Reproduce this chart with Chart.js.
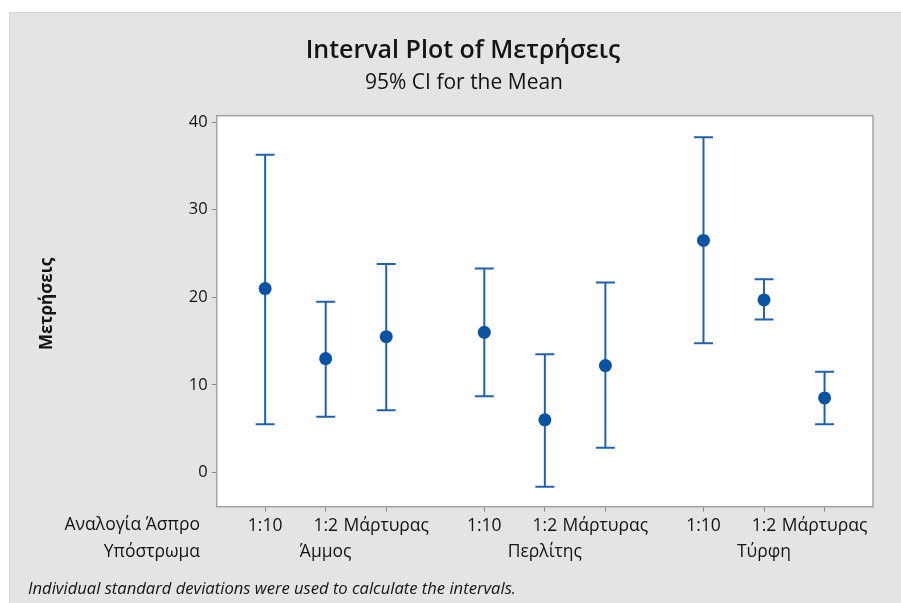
<!DOCTYPE html>
<html>
<head>
<meta charset="utf-8">
<script src="https://cdn.jsdelivr.net/npm/chart.js@4.4.1/dist/chart.umd.min.js"></script>
<style>
  body { margin: 0; background: #ffffff; }
  canvas { display: block; }
</style>
</head>
<body>
<canvas id="intervalChart" width="901" height="603"></canvas>
<script>
const soilTypes = ['Άμμος', 'Περλίτης', 'Τύρφη'];
const ratios = ['1:10', '1:2', 'Μάρτυρας'];

// one value per (soil, ratio) pair, in the order above
const means = [21.0, 13.0, 15.5, 16.0, 6.0, 12.2, 26.5, 19.7, 8.5];
const upperCI = [36.3, 19.5, 23.8, 23.3, 13.5, 21.7, 38.3, 22.05, 11.5];
const lowerCI = [5.5, 6.35, 7.1, 8.7, -1.65, 2.8, 14.75, 17.45, 5.5];

const yTicks = [0, 10, 20, 30, 40];

const GROUP_STEP = 3.62;
const lineColor = '#2261ad';
const dotColor = '#0a52a2';
const textColor = '#141414';
const fontName = "'Open Sans', sans-serif";

const points = [];
soilTypes.forEach((soil, g) => {
    ratios.forEach((r, j) => {
        const i = g * ratios.length + j;
        points.push({ x: g * GROUP_STEP + j, y: means[i], lo: lowerCI[i], hi: upperCI[i] });
    });
});

const panelPlugin = {
    id: 'panel',
    beforeDraw(chart) {
        const ctx = chart.ctx;
        const a = chart.chartArea;
        ctx.save();
        ctx.fillStyle = '#e4e4e4';
        ctx.fillRect(9, 12, chart.width - 9, chart.height - 12);
        ctx.strokeStyle = '#d4d4d4';
        ctx.lineWidth = 1;
        ctx.strokeRect(9.5, 12.5, chart.width, chart.height);
        ctx.fillStyle = '#ffffff';
        ctx.fillRect(a.left, a.top, a.right - a.left, a.bottom - a.top);
        ctx.restore();
    },
    afterDraw(chart) {
        const ctx = chart.ctx;
        const a = chart.chartArea;
        const xs = chart.scales.x;
        ctx.save();
        ctx.strokeStyle = '#a3a3a3';
        ctx.lineWidth = 1.5;
        ctx.strokeRect(a.left, a.top, a.right - a.left, a.bottom - a.top);

        ctx.fillStyle = textColor;
        ctx.textAlign = 'center';
        ctx.textBaseline = 'middle';
        ctx.font = `600 25px ${fontName}`;
        ctx.fillText('Interval Plot of Μετρήσεις', 463, 51);
        ctx.font = `400 21px ${fontName}`;
        ctx.fillText('95% CI for the Mean', 464, 83);

        ctx.font = `400 17.5px ${fontName}`;
        ctx.textAlign = 'right';
        ctx.fillText('Αναλογία Άσπρο', 200, 525);
        ctx.fillText('Υπόστρωμα', 200, 552);
        ctx.textAlign = 'center';
        soilTypes.forEach((soil, g) => {
            ctx.fillText(soil, xs.getPixelForValue(g * GROUP_STEP + 1), 552);
        });

        ctx.font = `italic 400 16.6px ${fontName}`;
        ctx.textAlign = 'left';
        ctx.fillText('Individual standard deviations were used to calculate the intervals.', 28, 589);

        ctx.translate(47.5, 304);
        ctx.rotate(-Math.PI / 2);
        ctx.textAlign = 'center';
        ctx.font = `700 17px ${fontName}`;
        ctx.fillText('Μετρήσεις', 0, 0);
        ctx.restore();
    }
};

const intervalPlugin = {
    id: 'intervals',
    beforeDatasetsDraw(chart) {
        const ctx = chart.ctx;
        const xs = chart.scales.x;
        const ys = chart.scales.y;
        const cap = 9.5;
        ctx.save();
        ctx.strokeStyle = lineColor;
        ctx.lineWidth = 2;
        points.forEach(p => {
            const x = xs.getPixelForValue(p.x);
            const yLo = ys.getPixelForValue(p.lo);
            const yHi = ys.getPixelForValue(p.hi);
            ctx.beginPath();
            ctx.moveTo(x, yHi);
            ctx.lineTo(x, yLo);
            ctx.moveTo(x - cap, yHi);
            ctx.lineTo(x + cap, yHi);
            ctx.moveTo(x - cap, yLo);
            ctx.lineTo(x + cap, yLo);
            ctx.stroke();
        });
        ctx.restore();
    }
};

new Chart(document.getElementById('intervalChart'), {
    type: 'scatter',
    data: {
        datasets: [{
            data: points,
            pointRadius: 6.5,
            pointHoverRadius: 6.5,
            backgroundColor: dotColor,
            borderColor: dotColor,
            borderWidth: 0
        }]
    },
    plugins: [panelPlugin, intervalPlugin],
    options: {
        responsive: false,
        animation: false,
        devicePixelRatio: 1,
        layout: { padding: { left: 0, top: 115.7, right: 28, bottom: 0 } },
        plugins: {
            legend: { display: false },
            tooltip: { enabled: false }
        },
        scales: {
            x: {
                type: 'linear',
                min: -0.8,
                max: 2 * GROUP_STEP + 2 + 0.8,
                afterBuildTicks: scale => {
                    scale.ticks = points.map(p => ({ value: p.x }));
                },
                afterFit: scale => { scale.height = 96.3; },
                ticks: {
                    autoSkip: false,
                    maxRotation: 0,
                    padding: 4,
                    color: textColor,
                    font: { family: fontName, size: 17.5 },
                    callback: (value, index) => ratios[index % ratios.length]
                },
                grid: { drawOnChartArea: false, tickLength: 5, color: '#8c8c8c' },
                border: { display: false }
            },
            y: {
                min: -3.93,
                max: 40.75,
                afterBuildTicks: scale => {
                    scale.ticks = yTicks.map(v => ({ value: v }));
                },
                afterFit: scale => { scale.width = 216.7; },
                ticks: {
                    padding: 4,
                    color: textColor,
                    font: { family: fontName, size: 16.5 }
                },
                grid: { drawOnChartArea: false, tickLength: 5, color: '#8c8c8c' },
                border: { display: false }
            }
        }
    }
});
</script>
</body>
</html>
